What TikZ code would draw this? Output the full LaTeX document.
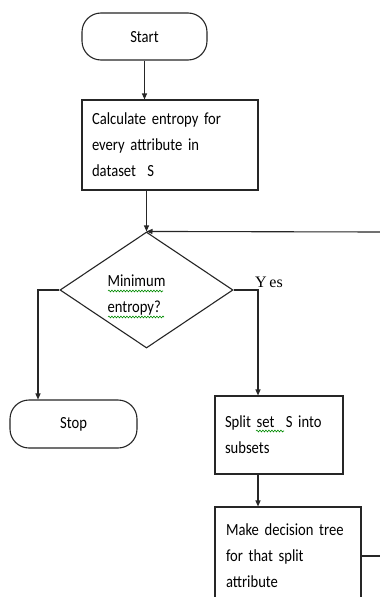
\documentclass[tikz,border=0pt]{standalone}
\usepackage{fontspec}
\setmainfont[FakeStretch=0.86]{Carlito}
\newfontfamily\yesfont{Liberation Serif}
\usetikzlibrary{shapes.geometric,arrows.meta,decorations.pathmorphing}
\tikzset{
  txt/.style={font=\fontsize{17}{26}\selectfont},
  ln/.style={draw=black!85, line width=1.1pt},
  arr/.style={ln, -{Triangle[length=6pt,width=5pt]}},
  term/.style={ln, txt, rectangle, rounded corners=19pt, inner sep=0pt},
  procbox/.style={ln, txt, rectangle, align=left, inner xsep=10pt, inner ysep=0pt},
  decis/.style={ln, diamond, inner sep=0pt},
  squig/.style={draw=green!55!black, line width=0.6pt, decorate,
    decoration={snake, amplitude=0.9pt, segment length=3pt}}
}
\begin{document}
\begin{tikzpicture}[x=1pt,y=-1pt]
\useasboundingbox (0,0) rectangle (380,597);
\clip (0,0) rectangle (380,597);
\fill[white] (0,0) rectangle (380,597);

\node[term, minimum width=125pt, minimum height=47pt, text depth=0pt] (start) at (144.5,36.5) {Start};
\node[procbox, text width=156pt, minimum height=90pt] (calc) at (170,145)
  {Calculate entropy for\\every attribute in\\dataset\ \ S};
\node[decis, minimum width=173pt, minimum height=116pt,
  label={[name=diat, txt, align=left, xshift=-10pt, yshift=-5pt]center:Minimum\\entropy?}] (dia) at (146.5,290) {};
\node[font=\yesfont\fontsize{16}{18}\selectfont] (yes) at (269,282) {Y\,es};
\node[term, minimum width=127pt, minimum height=48pt] (stop) at (73.5,424) {Stop};
\node[procbox, text width=108pt, minimum height=78pt] (split) at (279,435)
  {Split set\ \ S into\\subsets};
\node[procbox, inner xsep=11pt, text width=124pt, minimum height=98pt] (dec) at (288,556)
  {Make decision tree\\for that split\\attribute};

\coordinate (yc) at (258,290);
\coordinate (nc) at (38,290);
\coordinate (loopR) at (380,232);
\coordinate (outR) at (380,556);

\draw[arr] (start.south) -- (start.south |- calc.north);
\draw[arr] (dia.north |- calc.south) -- (dia.north);
\draw[arr] (loopR) -- (dia.north);
\draw[arr] (dia.east) -- (yc) -- (yc |- split.north);
\draw[arr] (dia.west) -- (nc) -- (nc |- stop.north);
\draw[arr] (yc |- split.south) -- (yc |- dec.north);
\draw[ln] (dec.east |- outR) -- (outR);

% spelling squiggles
\draw[squig] (108,291) -- (163,291);
\draw[squig] (108,317) -- (164,317);
\draw[squig] (256,431) -- (284,431);
\end{tikzpicture}
\end{document}
